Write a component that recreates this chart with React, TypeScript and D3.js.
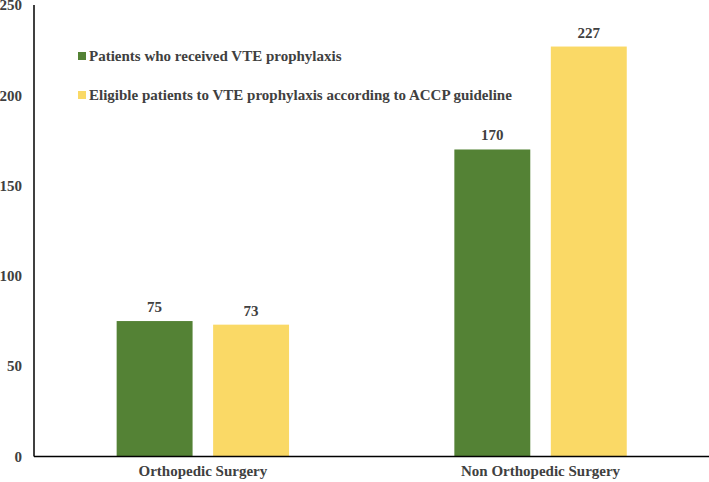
import React from "react";
import * as d3 from "d3";

const categories = ["Orthopedic Surgery", "Non Orthopedic Surgery"];
const seriesNames = [
  "Patients who received VTE prophylaxis",
  "Eligible patients to VTE prophylaxis according to ACCP guideline",
];
const receivedValues = [75, 170];
const eligibleValues = [73, 227];
const yTicks = [0, 50, 100, 150, 200, 250];
const colors = ["#548235", "#FAD966"];

const W = 709;
const H = 482;
const font = "'Liberation Serif', 'Times New Roman', serif";
const textColor = "#404040";

export default function App() {
  const x0 = d3.scaleBand<string>().domain(categories).range([34, 709.4]).padding(0);
  const y = d3.scaleLinear().domain([0, 250]).range([456.5, 5]);
  const groupW = 172.4;
  const x1 = d3
    .scaleBand<string>()
    .domain(seriesNames)
    .range([0, groupW])
    .paddingInner(0.213)
    .paddingOuter(0);
  const seriesValues = [receivedValues, eligibleValues];

  return (
    <svg
      width={W}
      height={H}
      style={{ position: "absolute", left: 0, top: 0 }}
      fontFamily={font}
    >
      <rect width={W} height={H} fill="#fff" />
      {yTicks.map((t) => (
        <text
          key={t}
          x={22}
          y={y(t)}
          dy="0.35em"
          textAnchor="end"
          fontSize={15}
          fontWeight="bold"
          fill={textColor}
        >
          {t}
        </text>
      ))}
      {categories.map((c, ci) => {
        const gx = x0(c)! + x0.bandwidth() / 2 - groupW / 2;
        return (
          <g key={c}>
            {seriesNames.map((s, si) => {
              const v = seriesValues[si][ci];
              const bx = gx + x1(s)!;
              return (
                <g key={s}>
                  <rect
                    x={bx}
                    y={y(v)}
                    width={x1.bandwidth()}
                    height={y(0) - y(v)}
                    fill={colors[si]}
                  />
                  <text
                    x={bx + x1.bandwidth() / 2}
                    y={y(v) - 9}
                    textAnchor="middle"
                    fontSize={15}
                    fontWeight="bold"
                    fill={textColor}
                  >
                    {v}
                  </text>
                </g>
              );
            })}
            <text
              x={x0(c)! + x0.bandwidth() / 2}
              y={476}
              textAnchor="middle"
              fontSize={15}
              fontWeight="bold"
              fill={textColor}
            >
              {c}
            </text>
          </g>
        );
      })}
      <line x1={34} x2={34} y1={5} y2={y(0)} stroke="#000" strokeWidth={1.5} />
      <line x1={34} x2={W} y1={y(0)} y2={y(0)} stroke="#000" strokeWidth={1.5} />
      {seriesNames.map((s, si) => (
        <g key={s} transform={`translate(78, ${56 + si * 39})`}>
          <rect x={0} y={-4} width={8} height={8} fill={colors[si]} />
          <text x={11} y={0} dy="0.35em" fontSize={15} fontWeight="bold" fill={textColor}>
            {s}
          </text>
        </g>
      ))}
    </svg>
  );
}
